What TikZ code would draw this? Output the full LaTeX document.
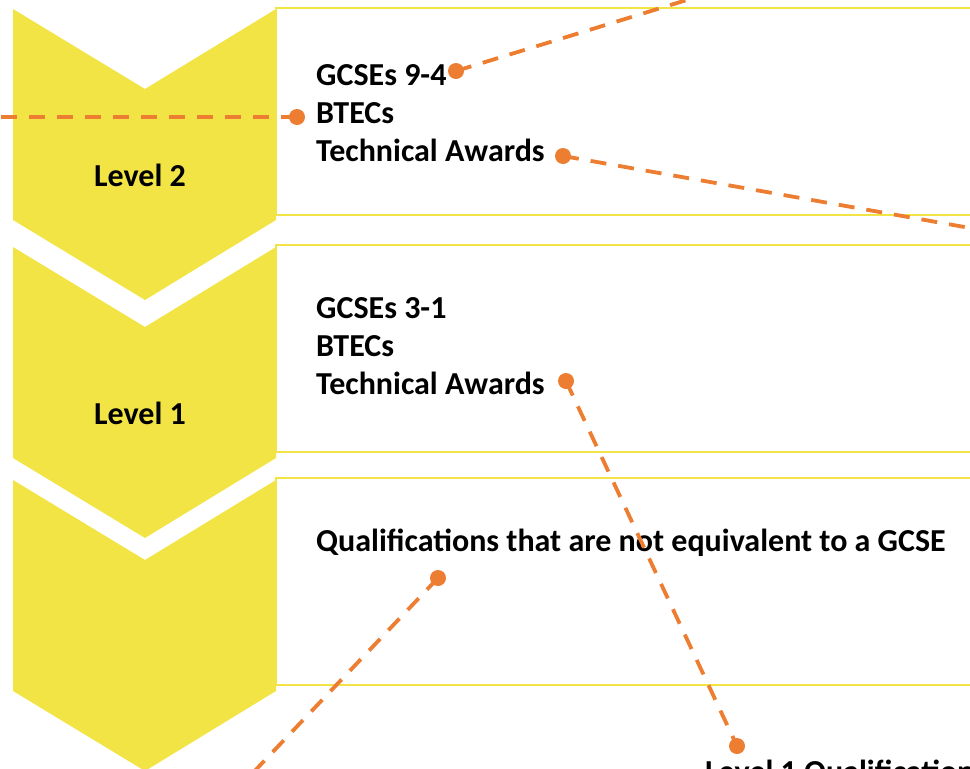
\documentclass[tikz,border=0pt]{standalone}
\usepackage{fontspec}
\setmainfont{Carlito}
\usepackage{tikz}
\definecolor{lvlyellow}{RGB}{241,228,68}
\definecolor{linkorange}{RGB}{237,125,49}
\tikzset{
  font={\fontsize{32pt}{38}\selectfont\bfseries}}

\begin{document}
\begin{tikzpicture}[x=1pt,y=-1pt]
\tikzstyle{every node}+=[inner sep=0pt]
\tikzstyle{dot}=[circle, fill=linkorange, minimum size=16pt]
\tikzstyle{link}=[linkorange, line width=3.8pt, dash pattern=on 16pt off 12pt]
\useasboundingbox (0,0) rectangle (970,769);
\foreach \t in {8,245,478}
  \draw [lvlyellow, line width=2.5pt] (276,\t) rectangle (990,\t+207);
\foreach \t in {9,247,480}
  \fill [lvlyellow] (13,\t) -- (145,\t+80) -- (276,\t) -- (276,\t+211) -- (145,\t+291) -- (13,\t+211) -- cycle;
\node (lvltwo) at (140,186) [anchor=base] {Level 2};
\node (lvlone) at (140,424) [anchor=base] {Level 1};
\node (gcseh) at (316,85) [anchor=base west] {GCSEs 9-4};
\node (btech) at (316,123) [anchor=base west] {BTECs};
\node (techh) at (316,161) [anchor=base west] {Technical Awards};
\node (gcsel) at (316,318) [anchor=base west] {GCSEs 3-1};
\node (btecl) at (316,356) [anchor=base west] {BTECs};
\node (techl) at (316,394) [anchor=base west] {Technical Awards};
\node (noteq) at (316,551) [anchor=base west] {Qualifications that are not equivalent to a GCSE};
\node (lvlq) at (705,782) [anchor=base west] {Level 1 Qualifications};
% dots
\node (da) [dot] at (456,71) {};
\node (db) [dot] at (297,117) {};
\node (dc) [dot] at (563,156) {};
\node (dd) [dot] at (566,381) {};
\node (de) [dot] at (737,746) {};
\node (df) [dot] at (438,578) {};
\coordinate (ea) at (755,-21);
\coordinate (eb) at (-10,117);
\coordinate (ec) at (990,231.5);
\coordinate (ef) at (248,778);
% links
\draw [link] (da.center) -- (ea);
\draw [link] (db.center) -- (eb);
\draw [link] (dc.center) -- (ec);
\draw [link] (dd.center) -- (de.center);
\draw [link] (df.center) -- (ef);
\end{tikzpicture}
\end{document}
